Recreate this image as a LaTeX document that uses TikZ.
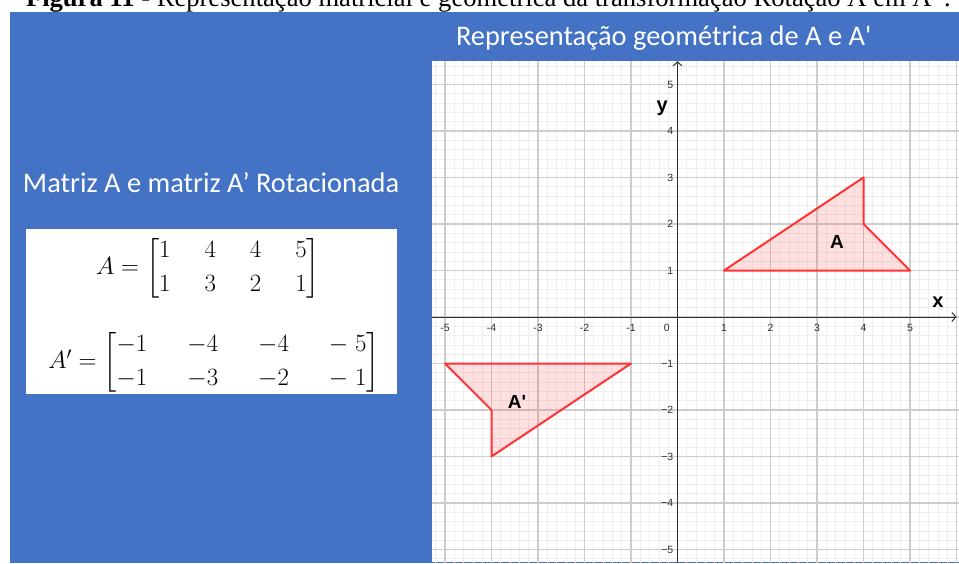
\documentclass[tikz,border=0pt]{standalone}
\usepackage{amsmath}
\usepackage{fontspec}
\setmainfont{Liberation Serif}
\newfontfamily\calib{Carlito}
\newfontfamily\arialf{Liberation Sans}
\usetikzlibrary{arrows.meta}
\definecolor{panelblue}{HTML}{4472C4}
\definecolor{majorgrid}{HTML}{CDCDCD}
\definecolor{minorgrid}{HTML}{EEEEEE}
\definecolor{shapered}{HTML}{FF3333}
\definecolor{axisgray}{HTML}{2E2E2E}
\renewcommand{\arraystretch}{1.12}
\begin{document}
\begin{tikzpicture}[x=1pt,y=-1pt,
  every node/.style={inner sep=0pt,outer sep=0pt},
  heading/.style={text=white,font=\calib\fontsize{28.4}{34}\selectfont,anchor=base west},
  ticklab/.style={font=\arialf\fontsize{10.5}{12}\selectfont,text=axisgray},
  axislab/.style={font=\arialf\bfseries\fontsize{20}{24}\selectfont,text=black},
  shapelab/.style={font=\arialf\bfseries\fontsize{19}{22}\selectfont,text=black},
  polyshape/.style={draw=shapered,line width=2pt,fill=shapered,fill opacity=0.15,line join=round},
  axisline/.style={draw=axisgray,line width=1pt,-{Straight Barb[length=4pt,width=9pt]}},
  matrixnode/.style={font=\fontsize{25}{30}\selectfont}]
\useasboundingbox (0,0) rectangle (959,563);
% caption (clipped at top)
\node[anchor=base west,font=\fontsize{26.6}{30}\selectfont] (caption) at (26,6)
  {\textbf{Figura 11} - Representação matricial e geométrica da transformação Rotação A em A' .};
% blue panel
\fill[panelblue] (10,12) rectangle (959,563);
% headings
\node[heading] (title) at (456,45) {Representação geométrica de A e A'};
\node[heading] (mattitle) at (23,192) {Matriz A e matriz A’ Rotacionada};
% matrix box
\fill[white] (26,229) rectangle (397,394);
\node[matrixnode] (matA) at (208,268)
  {$\delimiterfactor=700 \delimitershortfall=22pt \arraycolsep=17pt A=\begin{bmatrix}1&4&4&5\\1&3&2&1\end{bmatrix}$};
\node[matrixnode] (matAp) at (214,362)
  {$\delimiterfactor=700 \delimitershortfall=22pt \arraycolsep=20pt A'=\begin{bmatrix}-1&-4&-4&-\;5\\-1&-3&-2&-\;1\end{bmatrix}$};
% graph area
\fill[white] (432,61) rectangle (959,562);
\begin{scope}
\clip (432,61) rectangle (959,562);
\begin{scope}[shift={(677.5,317)},x={(46.5pt,0pt)},y={(0pt,46.5pt)}]
  \draw[minorgrid,line width=0.8pt] (-5.4,-5.4) grid[step=0.2] (6.2,5.6);
  \draw[majorgrid,line width=1.3pt] (-6,-6) grid[step=1] (7,6);
  \draw[polyshape] (1,1) -- (4,3) -- (4,2) -- (5,1) -- cycle;
  \draw[polyshape] (-1,-1) -- (-4,-3) -- (-4,-2) -- (-5,-1) -- cycle;
  \draw[axisline] (0,-5.4) -- (0,5.5);
  \draw[axisline] (-5.4,0) -- (6.0,0);
  \foreach \v/\t in {-5/-5,-4/-4,-3/-3,-2/-2,-1/-1,1/1,2/2,3/3,4/4,5/5}
    \node[ticklab] (xt\v) at (\v,-0.24) {\t};
  \node[ticklab] (xt0) at (-0.23,-0.24) {0};
  \foreach \v/\t in {-5/−5,-4/−4,-3/−3,-2/−2,-1/−1,1/1,2/2,3/3,4/4,5/5}
    \node[ticklab,anchor=east] (yt\v) at (-0.09,\v) {\t};
  \node[axislab] (ylab) at (-0.33,4.49) {y};
  \node[axislab] (xlab) at (5.6,0.32) {x};
  \node[shapelab] (labA) at (3.43,1.61) {A};
  \node[shapelab] (labAp) at (-3.45,-1.83) {A'};
\end{scope}
\end{scope}
\end{tikzpicture}
\end{document}
